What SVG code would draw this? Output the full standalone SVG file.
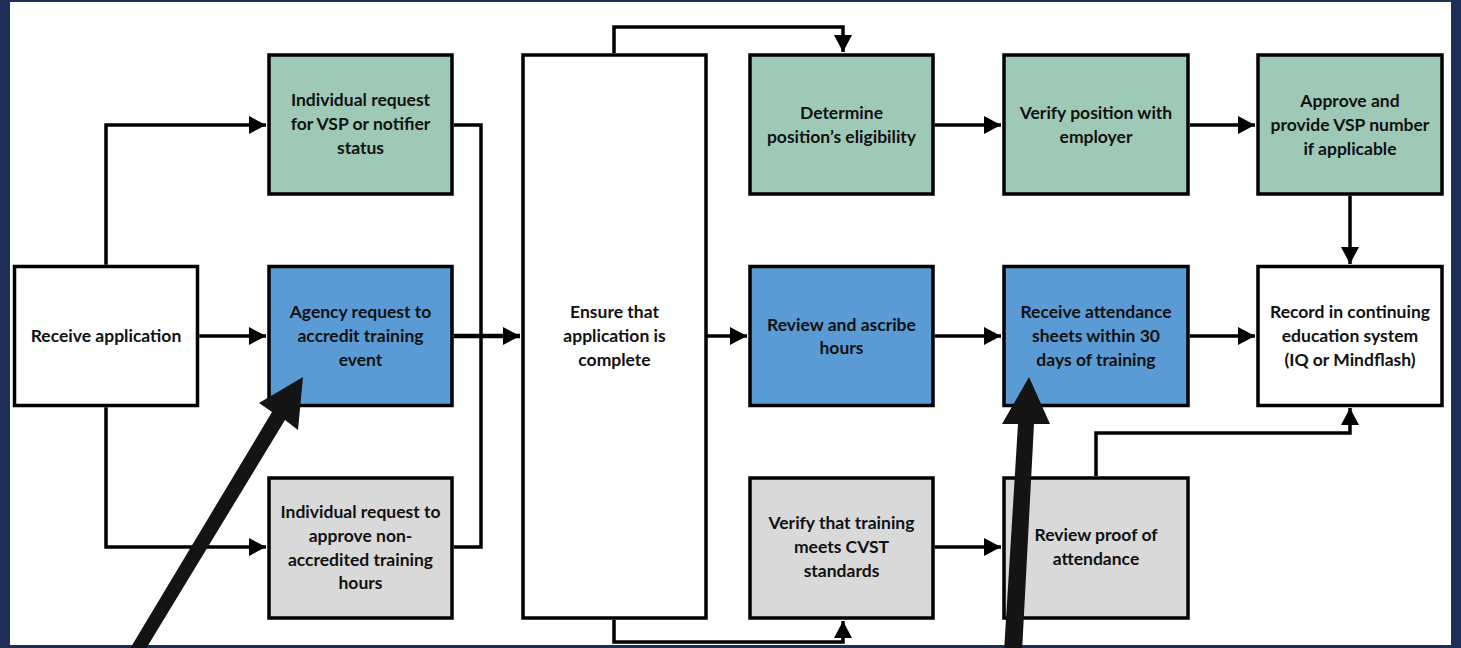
<svg xmlns="http://www.w3.org/2000/svg" width="1461" height="648" viewBox="0 0 1461 648">
<defs>
<style>
.box{stroke:#000;stroke-width:3.5}
.g{fill:#9FC9B7}.b{fill:#5B9BD5}.gr{fill:#D9D9D9}.w{fill:#fff}
.t{font-family:Lato,"Liberation Sans",sans-serif;font-weight:700;font-size:17.5px;fill:#111;text-anchor:middle}
.c{fill:none;stroke:#000;stroke-width:3.5;stroke-linejoin:miter}
.big{fill:#141414}
</style>
<marker id="ah" markerUnits="userSpaceOnUse" markerWidth="17" markerHeight="18" refX="17" refY="9" orient="auto">
<path d="M0,0 L17,9 L0,18 z" fill="#000"/>
</marker>
</defs>
<rect x="0" y="0" width="1461" height="648" fill="#1E2F57"/>
<rect x="10" y="2" width="1441" height="643" fill="#fff"/>

<g id="connectors">
<path class="c" d="M106,264.75 V125 H266" marker-end="url(#ah)"/>
<path class="c" d="M199.25,336 H266" marker-end="url(#ah)"/>
<path class="c" d="M106,407.25 V547 H266" marker-end="url(#ah)"/>
<path class="c" d="M453.75,125 H481 V547 H453.75"/>
<path class="c" d="M453.75,336 H520" marker-end="url(#ah)" style="stroke-width:4.5"/>
<path class="c" d="M614,53.25 V27 H843 V52" marker-end="url(#ah)"/>
<path class="c" d="M614,619.75 V642 H843 V621" marker-end="url(#ah)"/>
<path class="c" d="M706.25,336 H747" marker-end="url(#ah)"/>
<path class="c" d="M934.75,125 H1001" marker-end="url(#ah)"/>
<path class="c" d="M1189.75,125 H1255" marker-end="url(#ah)"/>
<path class="c" d="M1350,195.75 V264" marker-end="url(#ah)"/>
<path class="c" d="M934.75,336 H1001" marker-end="url(#ah)"/>
<path class="c" d="M1189.75,336 H1255" marker-end="url(#ah)"/>
<path class="c" d="M934.75,547 H1001" marker-end="url(#ah)"/>
<path class="c" d="M1096,476.25 V433 H1350 V408" marker-end="url(#ah)"/>
</g>

<g id="n-receive">
<rect class="box w" x="14.5" y="266.5" width="183" height="139"/>
<text class="t" x="106" y="342">Receive application</text>
</g>
<g id="n-vsp">
<rect class="box g" x="269" y="55" width="183" height="139"/>
<text class="t" x="360.5" y="106">Individual request</text>
<text class="t" x="360.5" y="130">for VSP or notifier</text>
<text class="t" x="360.5" y="154">status</text>
</g>
<g id="n-agency">
<rect class="box b" x="269" y="266.5" width="183" height="139"/>
<text class="t" x="360.5" y="318">Agency request to</text>
<text class="t" x="360.5" y="342">accredit training</text>
<text class="t" x="360.5" y="366">event</text>
</g>
<g id="n-nonacc">
<rect class="box gr" x="269" y="478" width="183" height="140"/>
<text class="t" x="360.5" y="518">Individual request to</text>
<text class="t" x="360.5" y="542">approve non-</text>
<text class="t" x="360.5" y="565.5">accredited training</text>
<text class="t" x="360.5" y="589">hours</text>
</g>
<g id="n-ensure">
<rect class="box w" x="523" y="55" width="183" height="563"/>
<text class="t" x="614.5" y="318">Ensure that</text>
<text class="t" x="614.5" y="342">application is</text>
<text class="t" x="614.5" y="366">complete</text>
</g>
<g id="n-determine">
<rect class="box g" x="750" y="55" width="183" height="139"/>
<text class="t" x="841.5" y="119">Determine</text>
<text class="t" x="841.5" y="143">position’s eligibility</text>
</g>
<g id="n-review-hours">
<rect class="box b" x="750" y="266.5" width="183" height="139"/>
<text class="t" x="841.5" y="331">Review and ascribe</text>
<text class="t" x="841.5" y="354">hours</text>
</g>
<g id="n-verify-training">
<rect class="box gr" x="750" y="478" width="183" height="140"/>
<text class="t" x="841.5" y="529">Verify that training</text>
<text class="t" x="841.5" y="553">meets CVST</text>
<text class="t" x="841.5" y="577">standards</text>
</g>
<g id="n-verify-position">
<rect class="box g" x="1004" y="55" width="184" height="139"/>
<text class="t" x="1096" y="119">Verify position with</text>
<text class="t" x="1096" y="143">employer</text>
</g>
<g id="n-attendance">
<rect class="box b" x="1004" y="266.5" width="184" height="139"/>
<text class="t" x="1096" y="318">Receive attendance</text>
<text class="t" x="1096" y="342">sheets within 30</text>
<text class="t" x="1096" y="366">days of training</text>
</g>
<g id="n-proof">
<rect class="box gr" x="1004" y="478" width="184" height="140"/>
<text class="t" x="1096" y="541">Review proof of</text>
<text class="t" x="1096" y="565">attendance</text>
</g>
<g id="n-approve">
<rect class="box g" x="1258" y="55" width="184" height="139"/>
<text class="t" x="1350" y="107">Approve and</text>
<text class="t" x="1350" y="131">provide VSP number</text>
<text class="t" x="1350" y="155">if applicable</text>
</g>
<g id="n-record">
<rect class="box w" x="1258" y="266.5" width="184" height="139"/>
<text class="t" x="1350" y="318">Record in continuing</text>
<text class="t" x="1350" y="342">education system</text>
<text class="t" x="1350" y="366">(IQ or Mindflash)</text>
</g>

<g id="callouts">
<polygon class="big" points="128,652 144,652 285,420 298,430 303,377 259,403 272,412"/>
<polygon class="big" points="1004,652 1022,652 1034,424 1050,424 1029,377 1002,424 1018,424"/>
</g>
</svg>
